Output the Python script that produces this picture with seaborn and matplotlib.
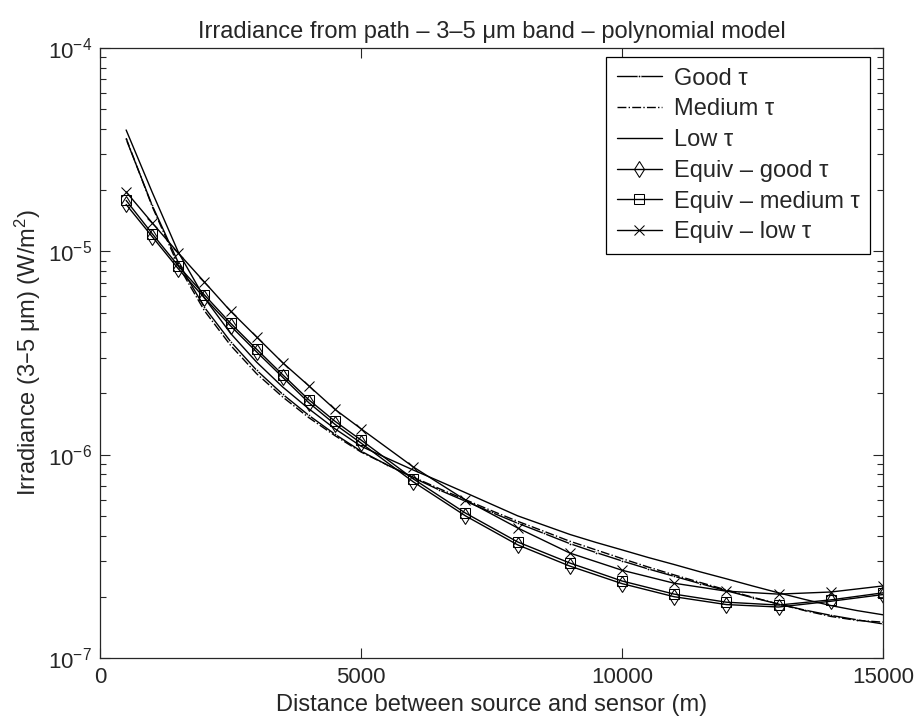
import numpy as np
import pandas as pd
import matplotlib
matplotlib.use("Agg")
import matplotlib.pyplot as plt
import seaborn as sns

# distanze dei campioni equivalenti (m)
dist_equiv = [500, 1000, 1500, 2000, 2500, 3000, 3500, 4000, 4500, 5000,
              6000, 7000, 8000, 9000, 10000, 11000, 12000, 13000, 14000, 15000]

equiv_good = [1.70e-5, 1.18e-5, 8.2e-6, 5.9e-6, 4.3e-6, 3.2e-6, 2.4e-6, 1.80e-6, 1.41e-6, 1.14e-6,
              7.35e-7, 5.0e-7, 3.6e-7, 2.83e-7, 2.32e-7, 2.0e-7, 1.83e-7, 1.78e-7, 1.90e-7, 2.05e-7]
equiv_medium = [1.78e-5, 1.22e-5, 8.47e-6, 6.1e-6, 4.43e-6, 3.30e-6, 2.47e-6, 1.86e-6, 1.46e-6, 1.18e-6,
                7.6e-7, 5.16e-7, 3.72e-7, 2.93e-7, 2.39e-7, 2.06e-7, 1.88e-7, 1.82e-7, 1.93e-7, 2.09e-7]
equiv_low = [1.96e-5, 1.38e-5, 9.8e-6, 7.06e-6, 5.08e-6, 3.79e-6, 2.83e-6, 2.18e-6, 1.67e-6, 1.34e-6,
             8.7e-7, 5.98e-7, 4.36e-7, 3.28e-7, 2.70e-7, 2.33e-7, 2.13e-7, 2.06e-7, 2.11e-7, 2.26e-7]

# modello polinomiale, campionato ogni 500 m
dist_model = [500, 1000, 1500, 2000, 2500, 3000, 3500, 4000, 4500, 5000,
              5500, 6000, 6500, 7000, 7500, 8000, 8500, 9000, 9500, 10000,
              10500, 11000, 11500, 12000, 12500, 13000, 13500, 14000, 14500, 15000]

good_tau = [3.56e-5, 1.68e-5, 8.8e-6, 5.3e-6, 3.6e-6, 2.6e-6, 1.98e-6, 1.56e-6, 1.26e-6, 1.04e-6,
            8.9e-7, 7.7e-7, 6.7e-7, 5.9e-7, 5.2e-7, 4.6e-7, 4.1e-7, 3.65e-7, 3.3e-7, 3.0e-7,
            2.74e-7, 2.52e-7, 2.32e-7, 2.14e-7, 1.98e-7, 1.84e-7, 1.72e-7, 1.62e-7, 1.54e-7, 1.47e-7]
medium_tau = [3.6e-5, 1.66e-5, 8.5e-6, 5.1e-6, 3.45e-6, 2.5e-6, 1.92e-6, 1.52e-6, 1.24e-6, 1.03e-6,
              8.9e-7, 7.75e-7, 6.8e-7, 6.0e-7, 5.3e-7, 4.7e-7, 4.2e-7, 3.75e-7, 3.4e-7, 3.08e-7,
              2.8e-7, 2.56e-7, 2.35e-7, 2.16e-7, 1.99e-7, 1.84e-7, 1.71e-7, 1.6e-7, 1.53e-7, 1.5e-7]
low_tau = [3.95e-5, 1.95e-5, 9.9e-6, 5.9e-6, 3.95e-6, 2.85e-6, 2.15e-6, 1.68e-6, 1.34e-6, 1.10e-6,
           9.6e-7, 8.4e-7, 7.4e-7, 6.5e-7, 5.7e-7, 5.0e-7, 4.5e-7, 4.05e-7, 3.7e-7, 3.4e-7,
           3.12e-7, 2.88e-7, 2.65e-7, 2.45e-7, 2.26e-7, 2.09e-7, 1.94e-7, 1.81e-7, 1.71e-7, 1.63e-7]

sns.set_style("ticks")
plt.rcParams['font.family'] = ['Liberation Sans', 'DejaVu Sans']
plt.rcParams['mathtext.default'] = 'regular'

fig = plt.figure(figsize=(9.22, 7.27), dpi=100)
ax = fig.add_axes([0.1085, 0.095, 0.8492, 0.839])

kw = dict(ax=ax, color='k', linewidth=1.0)
sns.lineplot(x=dist_model, y=good_tau, marker='.', markersize=4, label='Good τ', **kw)
sns.lineplot(x=dist_model, y=medium_tau, linestyle='-.', label='Medium τ', **kw)
sns.lineplot(x=dist_model, y=low_tau, label='Low τ', **kw)
sns.lineplot(x=dist_equiv, y=equiv_good, marker='d', markersize=8, markerfacecolor='none',
             markeredgecolor='k', label='Equiv – good τ', **kw)
sns.lineplot(x=dist_equiv, y=equiv_medium, marker='s', markersize=6.5, markerfacecolor='none',
             markeredgecolor='k', label='Equiv – medium τ', **kw)
sns.lineplot(x=dist_equiv, y=equiv_low, marker='x', markersize=6.5, markeredgecolor='k',
             label='Equiv – low τ', **kw)

ax.set_yscale('log')
ax.set_xlim(0, 15000)
ax.set_ylim(1e-7, 1e-4)
ax.set_xticks([0, 5000, 10000, 15000])
ax.tick_params(which='both', direction='in', top=True, right=True, labelsize=16, width=0.8)
ax.tick_params(axis='x', pad=6.5)
ax.tick_params(axis='y', pad=6)
ax.tick_params(which='major', length=7)
ax.tick_params(which='minor', length=4)
for s in ax.spines.values():
    s.set_linewidth(0.9)

ax.set_title('Irradiance from path – 3–5 μm band – polynomial model', fontsize=17, pad=7)
ax.set_xlabel('Distance between source and sensor (m)', fontsize=17, labelpad=4)
ax.set_ylabel('Irradiance (3–5 μm) (W/m$^2$)', fontsize=17, labelpad=3.5)

leg = ax.legend(loc='upper right', bbox_to_anchor=(870 / 922, 1 - 57 / 727),
                bbox_transform=fig.transFigure, borderaxespad=0,
                fontsize=17, frameon=True, fancybox=False,
                edgecolor='k', framealpha=1, handlelength=1.9, labelspacing=0.37,
                borderpad=0.45, handletextpad=0.5)
leg.get_frame().set_linewidth(0.9)

fig.savefig('out.png', dpi=100)
